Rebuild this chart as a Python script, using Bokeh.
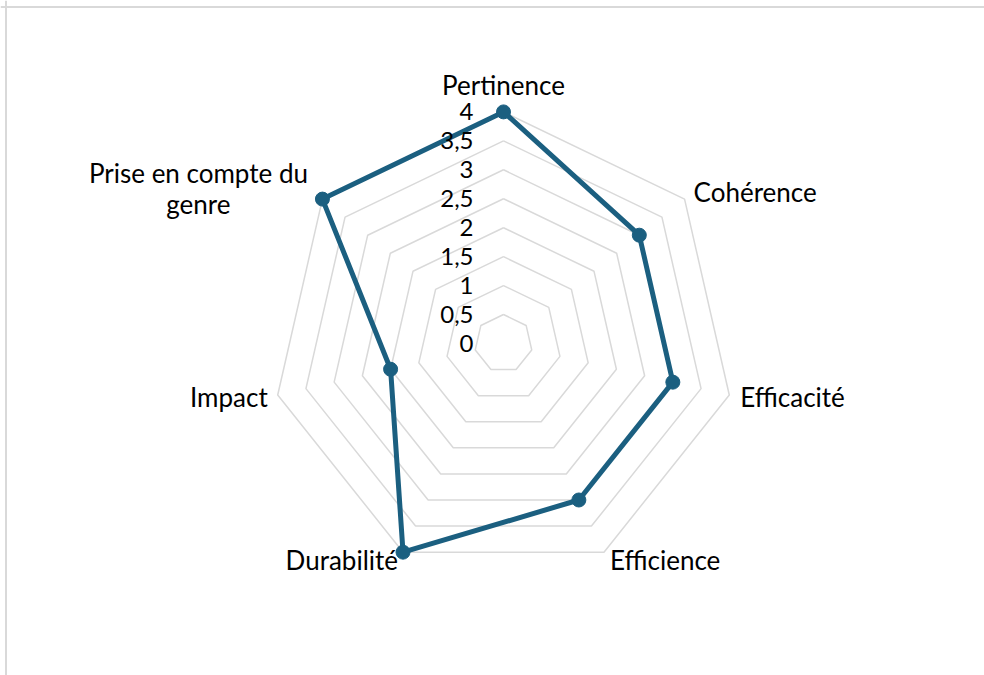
import math
from bokeh.plotting import figure
from bokeh.models import Range1d, Span, ColumnDataSource
from bokeh.core.properties import value
from bokeh.embed import file_html
from bokeh.resources import INLINE

categories = ["Pertinence", "Cohérence", "Efficacité", "Efficience",
              "Durabilité", "Impact", "Prise en compte du\ngenre"]
scores = [4, 3, 3, 3, 4, 2, 4]
tick_values = [0, 0.5, 1, 1.5, 2, 2.5, 3, 3.5, 4]
tick_labels = ["0", "0,5", "1", "1,5", "2", "2,5", "3", "3,5", "4"]

FONT = "Lato"
LINE = "#1b5f80"
GRID = "#d9d9d9"
PX = 57.9  # pixels per unit
W, H = 984, 675
cx_px, cy_px = 503, 343

p = figure(width=W, height=H, output_backend="svg", toolbar_location=None,
           x_range=Range1d(-cx_px / PX, (W - cx_px) / PX),
           y_range=Range1d(-(H - cy_px) / PX, cy_px / PX),
           min_border=0, outline_line_color=None)
p.axis.visible = False
p.xgrid.visible = False
p.ygrid.visible = False
p.background_fill_color = "white"
p.border_fill_color = "white"

n = len(categories)
angles = [k * 2 * math.pi / n for k in range(n)]


def pt(r, a):
    return r * math.sin(a), r * math.cos(a)


# grid heptagons
for v in tick_values[1:]:
    xs = [pt(v, a)[0] for a in angles] + [pt(v, angles[0])[0]]
    ys = [pt(v, a)[1] for a in angles] + [pt(v, angles[0])[1]]
    p.line(xs, ys, line_color=GRID, line_width=1.5)

# frame border (left/top)
p.add_layout(Span(location=(5.5 - cx_px) / PX, dimension="height",
                  line_color=GRID, line_width=2))
p.add_layout(Span(location=(cy_px - 6.5) / PX, dimension="width",
                  line_color=GRID, line_width=2))

# data series
dx = [pt(s, a)[0] for s, a in zip(scores, angles)]
dy = [pt(s, a)[1] for s, a in zip(scores, angles)]
p.line(dx + [dx[0]], dy + [dy[0]], line_color=LINE, line_width=5,
       line_join="round")
p.scatter(dx, dy, size=14, fill_color=LINE, line_color=LINE)

# tick labels
p.text(x=[-30 / PX] * len(tick_values), y=tick_values, text=tick_labels,
       text_align="right", text_baseline="middle", text_font=value(FONT),
       text_font_size="24px", text_color="black")

# category labels
vx = [pt(4, a)[0] for a in angles]
vy = [pt(4, a)[1] for a in angles]
aligns = ["center", "left", "left", "left", "right", "right", "center"]
baselines = ["bottom", "middle", "middle", "top", "top", "middle", "middle"]
xoff = [0, 9, 11, 6, -5, -10, -124]
yoff = [-11, -7, 2, -8, -8, 2, -11]
src = ColumnDataSource(dict(x=vx, y=vy, text=categories, align=aligns,
                            base=baselines, xo=xoff, yo=yoff))
p.text(x="x", y="y", text="text", source=src, text_align="align",
       text_baseline="base", x_offset="xo", y_offset="yo",
       text_font=value(FONT), text_font_size="26px", text_color="black",
       text_line_height=0.97)

open("out.html", "w").write(file_html(p, INLINE))
